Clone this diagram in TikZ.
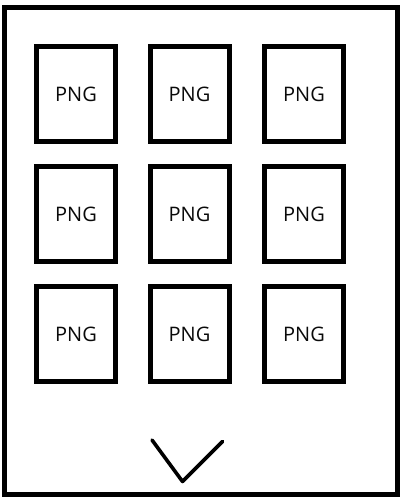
\documentclass[tikz,border=0pt]{standalone}
\usepackage{fontspec}
\setmainfont{Open Sans}
\usepackage{tikz}
\usetikzlibrary{positioning,calc}
\definecolor{Ink}{RGB}{0,0,0}
\definecolor{TextInk}{RGB}{10,10,10}
\tikzset{
  frame/.style={draw=Ink, line width=5pt},
  pngbox/.style={draw=Ink, line width=5pt, fill=white, minimum width=79pt, minimum height=95pt,
    inner sep=0pt, text=TextInk, font=\fontsize{20}{22}\selectfont},
  chevron/.style={draw=Ink, line width=3.6pt, line cap=round, line join=round},
}
\begin{document}
\begin{tikzpicture}[x=1pt,y=-1pt]
\useasboundingbox (0,0) rectangle (402,498);

% ================= outer panel =================
\draw[frame] (4.5,7.5) rectangle (397.5,494.5);

% ================= 3x3 grid of thumbnails =================
\foreach \r/\y in {1/94,2/214,3/334}{
  \foreach \c/\x in {1/76,2/189.5,3/304}{
    \node[pngbox] (png-\r-\c) at (\x,\y) {PNG};
  }
}

% ================= down chevron =================
\coordinate (chevL) at (152,440);
\coordinate (chevB) at (182.5,481.5);
\coordinate (chevR) at (222.5,441.5);
\draw[chevron] (chevL) -- (chevB) -- (chevR);

\end{tikzpicture}
\end{document}
